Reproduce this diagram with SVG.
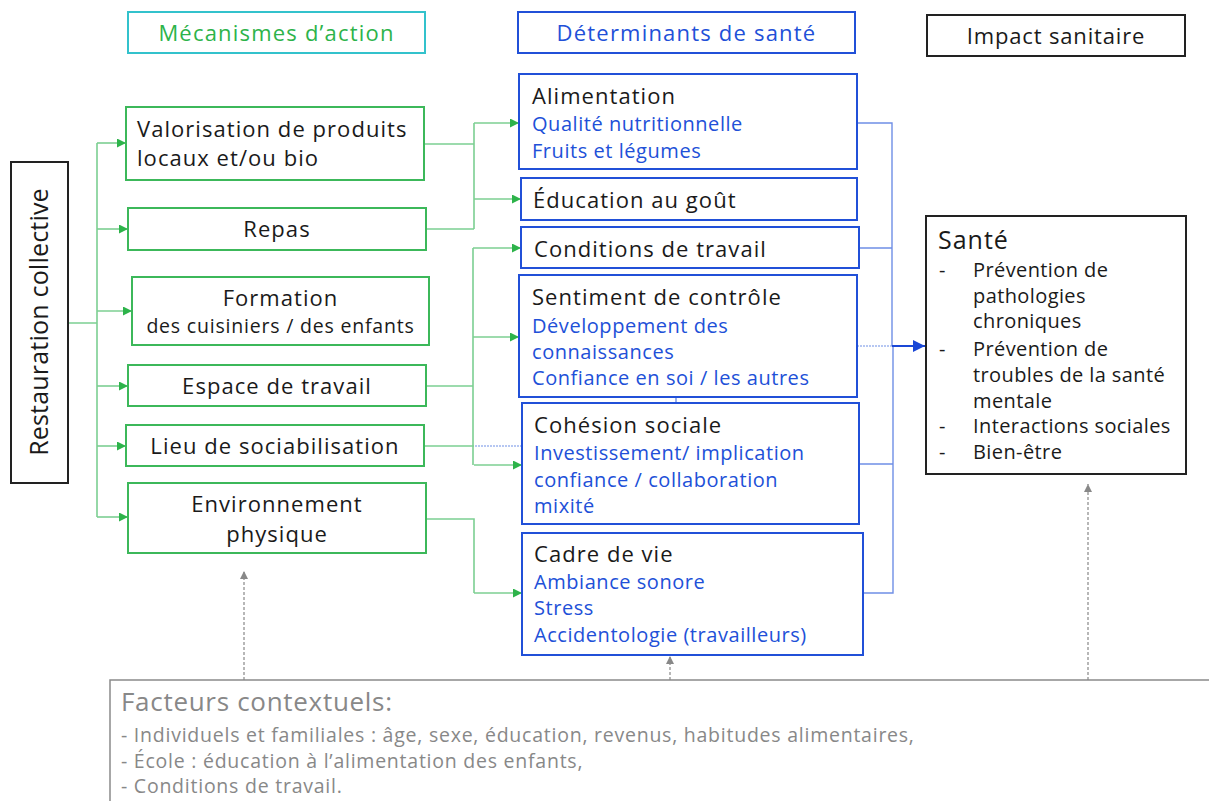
<svg xmlns="http://www.w3.org/2000/svg" width="1209" height="801" viewBox="0 0 1209 801">
<style>
text{font-family:"Open Sans","Liberation Sans",sans-serif;letter-spacing:0.4px;}
.gbox{fill:#fff;stroke:#3cb85a;stroke-width:2;}
.bbox{fill:#fff;stroke:#2150d8;stroke-width:2;}
.kbox{fill:#fff;stroke:#222;stroke-width:2;}
.t{font-size:22px;fill:#1a1a1a;letter-spacing:1.05px;}
.tb{font-size:20px;fill:#2150d8;letter-spacing:0.55px;}
.hd{font-size:22px;letter-spacing:1.2px;}
.ft{font-size:19.5px;fill:#888;letter-spacing:0.76px;}
.gl{fill:none;stroke:#7ccf92;stroke-width:1.6;}
.bl{fill:none;stroke:#6f8fe6;stroke-width:1.4;}
.gray{fill:#888;}
</style>
<defs>
<marker id="ga" viewBox="0 0 10 10" refX="10" refY="5" markerWidth="9" markerHeight="9" markerUnits="userSpaceOnUse" orient="auto"><path d="M0,0L10,5L0,10z" fill="#2db34a"/></marker>
<marker id="ba" viewBox="0 0 10 10" refX="10" refY="5" markerWidth="12" markerHeight="12" markerUnits="userSpaceOnUse" orient="auto"><path d="M0,0L10,5L0,10z" fill="#1a47d6"/></marker>
<marker id="ka" viewBox="0 0 10 10" refX="10" refY="5" markerWidth="8" markerHeight="8" markerUnits="userSpaceOnUse" orient="auto"><path d="M0,0L10,5L0,10z" fill="#888"/></marker>
</defs>

<g id="connectors">
<path class="gl" d="M68,323H97M97,143V517"/>
<path class="gl" d="M97,143H126" marker-end="url(#ga)"/>
<path class="gl" d="M97,229H128" marker-end="url(#ga)"/>
<path class="gl" d="M97,311H132" marker-end="url(#ga)"/>
<path class="gl" d="M97,386H128" marker-end="url(#ga)"/>
<path class="gl" d="M97,446H126" marker-end="url(#ga)"/>
<path class="gl" d="M97,517H128" marker-end="url(#ga)"/>
<path class="gl" d="M424,144H474M426,229H474M474,123V229"/>
<path class="gl" d="M474,123H519" marker-end="url(#ga)"/>
<path class="gl" d="M474,199H521" marker-end="url(#ga)"/>
<path class="gl" d="M426,386H473M424,446H474M473,248V465M426,519H474V593"/>
<path class="gl" d="M473,248H521" marker-end="url(#ga)"/>
<path class="gl" d="M473,337H519" marker-end="url(#ga)"/>
<path class="gl" d="M474,465H522" marker-end="url(#ga)"/>
<path class="gl" d="M474,593H522" marker-end="url(#ga)"/>
<path d="M475,446H522" fill="none" stroke="#6f8fe6" stroke-width="1.2" stroke-dasharray="2,1"/>
<path class="bl" d="M676,397V403"/>
<path class="bl" d="M857,123H892V346M859,248H892"/>
<path d="M857,346H892" fill="none" stroke="#6f8fe6" stroke-width="1.2" stroke-dasharray="2,1"/>
<path class="bl" d="M893,346V593H863M859,464H893"/>
<path d="M892,346H925" fill="none" stroke="#1a47d6" stroke-width="1.8" marker-end="url(#ba)"/>
<path d="M244,680V571" fill="none" stroke="#888" stroke-width="1.2" stroke-dasharray="3,2" marker-end="url(#ka)"/>
<path d="M670,680V656" fill="none" stroke="#888" stroke-width="1.2" stroke-dasharray="3,2" marker-end="url(#ka)"/>
<path d="M1088,680V484" fill="none" stroke="#888" stroke-width="1.2" stroke-dasharray="3,2" marker-end="url(#ka)"/>
</g>

<g id="h-mecanismes">
<rect x="128" y="12" width="297" height="41" fill="#fff" stroke="#33c2cc" stroke-width="2"/>
<text x="276.5" y="41" text-anchor="middle" class="hd" style="fill:#2db34a">Mécanismes d’action</text>
</g>
<g id="h-determinants">
<rect x="518" y="12" width="337" height="41" class="bbox"/>
<text x="686.5" y="41" text-anchor="middle" class="hd" style="fill:#2150d8">Déterminants de santé</text>
</g>
<g id="h-impact">
<rect x="927" y="15" width="258" height="41" class="kbox"/>
<text x="1056" y="44" text-anchor="middle" style="font-size:22px;fill:#1a1a1a;letter-spacing:0.85px">Impact sanitaire</text>
</g>

<g id="restauration">
<rect x="11" y="162" width="57" height="321" class="kbox"/>
<text transform="translate(48,322) rotate(-90)" text-anchor="middle" style="font-size:25px;fill:#1a1a1a;letter-spacing:0.2px">Restauration collective</text>
</g>

<g id="valorisation">
<rect x="126" y="107" width="298" height="73" class="gbox"/>
<text x="137" y="137" class="t">Valorisation de produits</text>
<text x="137" y="166" class="t">locaux et/ou bio</text>
</g>
<g id="repas">
<rect x="128" y="208" width="298" height="42" class="gbox"/>
<text x="277" y="237" text-anchor="middle" class="t">Repas</text>
</g>
<g id="formation">
<rect x="132" y="277" width="297" height="68" class="gbox"/>
<text x="280.5" y="306" text-anchor="middle" class="t">Formation</text>
<text x="280.5" y="333" text-anchor="middle" style="font-size:19.5px;fill:#1a1a1a;letter-spacing:0.8px">des cuisiniers / des enfants</text>
</g>
<g id="espace">
<rect x="128" y="365" width="298" height="41" class="gbox"/>
<text x="277" y="394" text-anchor="middle" class="t">Espace de travail</text>
</g>
<g id="lieu">
<rect x="126" y="425" width="298" height="41" class="gbox"/>
<text x="275" y="454" text-anchor="middle" class="t">Lieu de sociabilisation</text>
</g>
<g id="environnement">
<rect x="128" y="483" width="298" height="70" class="gbox"/>
<text x="277" y="512" text-anchor="middle" class="t">Environnement</text>
<text x="277" y="542" text-anchor="middle" class="t">physique</text>
</g>

<g id="alimentation">
<rect x="519" y="74" width="338" height="95" class="bbox"/>
<text x="532" y="104" class="t">Alimentation</text>
<text x="532" y="131" class="tb">Qualité nutritionnelle</text>
<text x="532" y="158" class="tb">Fruits et légumes</text>
</g>
<g id="education">
<rect x="521" y="178" width="336" height="42" class="bbox"/>
<text x="533" y="208" class="t">Éducation au goût</text>
</g>
<g id="conditions">
<rect x="521" y="227" width="338" height="41" class="bbox"/>
<text x="534" y="257" class="t">Conditions de travail</text>
</g>
<g id="sentiment">
<rect x="519" y="275" width="338" height="122" class="bbox"/>
<text x="532" y="305" class="t">Sentiment de contrôle</text>
<text x="532" y="333" class="tb">Développement des</text>
<text x="532" y="359" class="tb">connaissances</text>
<text x="532" y="385" class="tb">Confiance en soi / les autres</text>
</g>
<g id="cohesion">
<rect x="522" y="403" width="337" height="121" class="bbox"/>
<text x="534" y="433" class="t">Cohésion sociale</text>
<text x="534" y="460" class="tb">Investissement/ implication</text>
<text x="534" y="487" class="tb">confiance / collaboration</text>
<text x="534" y="513" class="tb">mixité</text>
</g>
<g id="cadre">
<rect x="522" y="533" width="341" height="122" class="bbox"/>
<text x="534" y="562" class="t">Cadre de vie</text>
<text x="534" y="589" class="tb">Ambiance sonore</text>
<text x="534" y="615" class="tb">Stress</text>
<text x="534" y="642" class="tb">Accidentologie (travailleurs)</text>
</g>

<g id="sante">
<rect x="926" y="216" width="260" height="258" class="kbox"/>
<text x="938" y="249" style="font-size:25px;fill:#1a1a1a;letter-spacing:1px">Santé</text>
<g style="font-size:20px;fill:#1a1a1a">
<text x="939" y="277">-</text><text x="973" y="277">Prévention de</text>
<text x="973" y="303">pathologies</text>
<text x="973" y="328">chroniques</text>
<text x="939" y="356">-</text><text x="973" y="356">Prévention de</text>
<text x="973" y="382">troubles de la santé</text>
<text x="973" y="408">mentale</text>
<text x="939" y="433">-</text><text x="973" y="433">Interactions sociales</text>
<text x="939" y="459">-</text><text x="973" y="459">Bien-être</text>
</g>
</g>

<g id="facteurs">
<rect x="110" y="680" width="1110" height="140" fill="#fff" stroke="#8a8a8a" stroke-width="1.5"/>
<text x="121" y="711" class="gray" style="font-size:26px;letter-spacing:0.7px">Facteurs contextuels:</text>
<text x="121" y="742" class="ft">- Individuels et familiales : âge, sexe, éducation, revenus, habitudes alimentaires,</text>
<text x="121" y="768" class="ft">- École : éducation à l’alimentation des enfants,</text>
<text x="121" y="793" class="ft">- Conditions de travail.</text>
</g>
</svg>
